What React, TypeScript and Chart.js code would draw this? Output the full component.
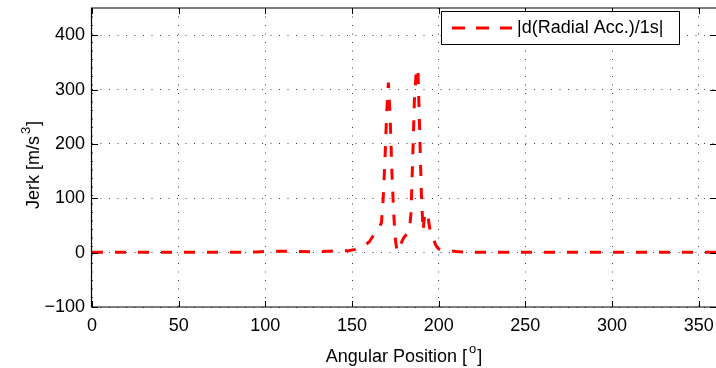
import React, { useEffect, useRef } from "react";
import { Chart, registerables } from "chart.js";

Chart.register(...registerables);

// ---- data ----
const angles = [
  0, 20, 40, 60, 80, 95, 100, 110, 120, 130, 140, 148, 152, 155, 158, 160, 162, 164, 166, 167,
  168, 169, 170, 171, 172, 173, 174, 175, 176, 177, 178, 179, 180, 181, 182, 183, 184, 185, 186,
  187, 188, 189, 190, 191, 192, 193, 194, 195, 196, 197, 198, 199, 200, 203, 206, 210, 215, 220,
  240, 260, 280, 300, 320, 340, 360,
];
const jerk = [
  0.5, 0.5, 0.5, 0.5, 0.8, 1, 2.5, 2.5, 2, 1.5, 3, 3.5, 6, 9, 15, 20, 30, 38, 48, 55,
  100, 170, 255, 313, 250, 150, 75, 25, 2, 8, 15, 22, 28, 32, 35, 40, 70, 170, 280,
  330, 340, 230, 110, 40, 72, 74, 62, 42, 35, 26, 16, 10, 7, 4.5, 3.5, 2, 1, 0.8,
  0.5, 0.5, 0.5, 0.5, 0.5, 0.5, 0.5,
];
const xTicks = [0, 50, 100, 150, 200, 250, 300, 350];
const yTicks = [-100, 0, 100, 200, 300, 400];
const seriesLabel = "|d(Radial Acc.)/1s|";
const xTitleParts = [
  { t: "Angular Position [", sup: false },
  { t: "o", sup: true },
  { t: "]", sup: false },
];
const yTitleParts = [
  { t: "Jerk [m/s", sup: false },
  { t: "3", sup: true },
  { t: "]", sup: false },
];

const FONT = "Liberation Sans, Arial, sans-serif";
const RED = "#ff0000";

type Part = { t: string; sup: boolean };

function drawRich(ctx: CanvasRenderingContext2D, parts: Part[], cx: number, baseline: number, size: number) {
  const main = `${size}px ${FONT}`;
  const sub = `${Math.round(size * 0.7)}px ${FONT}`;
  let total = 0;
  const widths: number[] = [];
  parts.forEach((p) => {
    ctx.font = p.sup ? sub : main;
    const w = ctx.measureText(p.t).width + (p.sup ? 3 : 0);
    widths.push(w);
    total += w;
  });
  let x = cx - total / 2;
  ctx.textAlign = "left";
  ctx.textBaseline = "alphabetic";
  ctx.fillStyle = "#000";
  parts.forEach((p, i) => {
    ctx.font = p.sup ? sub : main;
    ctx.fillText(p.t, x + (p.sup ? 2 : 0), p.sup ? baseline - size * 0.5 : baseline);
    x += widths[i];
  });
}

const decor = {
  id: "matlabDecor",
  afterDraw(chart: any) {
    const { ctx, chartArea, scales } = chart;
    const { left, right, top, bottom } = chartArea;
    ctx.save();
    // box (right edge falls outside the canvas)
    ctx.strokeStyle = "#000";
    ctx.lineWidth = 1.2;
    ctx.setLineDash([]);
    ctx.beginPath();
    ctx.moveTo(right, top);
    ctx.lineTo(left - 0.5, top);
    ctx.lineTo(left - 0.5, bottom);
    ctx.lineTo(right, bottom);
    ctx.stroke();
    // inward ticks
    const tl = 6;
    ctx.lineWidth = 1;
    ctx.beginPath();
    xTicks.forEach((v) => {
      const px = Math.round(scales.x.getPixelForValue(v)) + 0.5;
      ctx.moveTo(px, bottom);
      ctx.lineTo(px, bottom - tl);
      ctx.moveTo(px, top);
      ctx.lineTo(px, top + tl);
    });
    yTicks.forEach((v) => {
      const py = Math.round(scales.y.getPixelForValue(v)) + 0.5;
      ctx.moveTo(left, py);
      ctx.lineTo(left + tl, py);
      ctx.moveTo(right, py);
      ctx.lineTo(right - tl, py);
    });
    ctx.stroke();

    // legend
    const lx = 441.5, ly = 11.5, lw = 238, lh = 33;
    ctx.fillStyle = "#fff";
    ctx.fillRect(lx, ly, lw, lh);
    ctx.strokeStyle = "#000";
    ctx.lineWidth = 1;
    ctx.strokeRect(lx, ly, lw, lh);
    ctx.strokeStyle = RED;
    ctx.lineWidth = 3;
    ctx.setLineDash([13, 11]);
    ctx.beginPath();
    ctx.moveTo(452, 28);
    ctx.lineTo(512, 28);
    ctx.stroke();
    ctx.setLineDash([]);
    ctx.fillStyle = "#000";
    ctx.font = `18px ${FONT}`;
    ctx.textAlign = "left";
    ctx.textBaseline = "middle";
    ctx.fillText(seriesLabel, 517, 28.5);

    // axis titles
    drawRich(ctx, xTitleParts, 404, 361.5, 18);
    ctx.save();
    ctx.translate(39, 165);
    ctx.rotate(-Math.PI / 2);
    drawRich(ctx, yTitleParts, 0, 0, 18);
    ctx.restore();
    ctx.restore();
  },
};

const fmt = (v: number) => (v < 0 ? "\u2212" + Math.abs(v) : String(v));

const noPad = (s: any) => {
  s.paddingTop = 0;
  s.paddingBottom = 0;
  s.paddingLeft = 0;
  s.paddingRight = 0;
};

export default function App() {
  const ref = useRef<HTMLCanvasElement>(null);
  useEffect(() => {
    document.body.style.margin = "0";
    const canvas = ref.current!;
    const chart = new Chart(canvas, {
      type: "line",
      data: {
        datasets: [
          {
            label: seriesLabel,
            data: angles.map((a, i) => ({ x: a, y: jerk[i] })),
            borderColor: RED,
            backgroundColor: RED,
            borderWidth: 3,
            borderDash: [11, 12],
            pointRadius: 0,
            fill: false,
            tension: 0,
          },
        ],
      },
      options: {
        responsive: false,
        animation: false,
        devicePixelRatio: 1,
        layout: { padding: { top: 8, right: 0, bottom: 0, left: 0 } },
        plugins: {
          legend: { display: false },
          tooltip: { enabled: false },
          title: { display: false },
        },
        scales: {
          x: {
            type: "linear",
            min: 0,
            max: 360,
            afterBuildTicks: (s: any) => {
              s.ticks = xTicks.map((v) => ({ value: v }));
            },
            afterFit: (s: any) => {
              s.height = 61;
              noPad(s);
            },
            grid: { color: "#444", lineWidth: 1, drawTicks: false },
            border: { display: false, dash: [1, 7.5] },
            ticks: {
              font: { family: FONT, size: 18 },
              color: "#000",
              padding: 8,
              maxRotation: 0,
              autoSkip: false,
              callback: (v: any) => fmt(Number(v)),
            },
          },
          y: {
            type: "linear",
            min: -100,
            max: 450,
            afterBuildTicks: (s: any) => {
              s.ticks = yTicks.map((v) => ({ value: v }));
            },
            afterFit: (s: any) => {
              s.width = 92;
              noPad(s);
            },
            grid: { color: "#444", lineWidth: 1, drawTicks: false },
            border: { display: false, dash: [1, 7.5] },
            ticks: {
              font: { family: FONT, size: 18 },
              color: "#000",
              padding: 7,
              autoSkip: false,
              callback: (v: any) => fmt(Number(v)),
            },
          },
        },
      },
      plugins: [decor],
    } as any);
    return () => chart.destroy();
  }, []);
  return (
    <div style={{ position: "absolute", left: 0, top: 0, width: 716, height: 368 }}>
      <canvas ref={ref} width={716} height={368} style={{ display: "block", width: 716, height: 368 }} />
    </div>
  );
}
